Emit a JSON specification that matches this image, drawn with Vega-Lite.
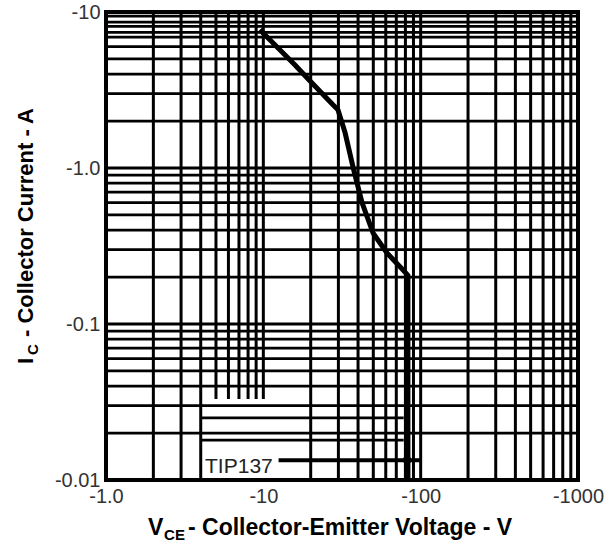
{
  "$schema": "https://vega.github.io/schema/vega-lite/v6.json",
  "width": 472,
  "height": 468,
  "autosize": {"type": "none"},
  "padding": {"left": 106, "top": 12, "right": 35, "bottom": 64},
  "background": "white",
  "config": {
    "view": {"stroke": "black", "strokeWidth": 4},
    "font": "Liberation Sans",
    "axis": {"ticks": false, "domain": false, "grid": false, "labelFontSize": 20, "labelColor": "#333", "labelPadding": 6,
             "labelFlush": false, "labelOverlap": false, "labelBound": false, "labelFont": "Liberation Sans"}
  },
  "datasets": {
    "vgrid": [
      {"v": 2, "lo": 0.01, "hi": 10}, {"v": 3, "lo": 0.01, "hi": 10}, {"v": 4, "lo": 0.01, "hi": 10},
      {"v": 5, "lo": 0.033, "hi": 10}, {"v": 6, "lo": 0.033, "hi": 10}, {"v": 7, "lo": 0.033, "hi": 10},
      {"v": 8, "lo": 0.033, "hi": 10}, {"v": 9, "lo": 0.033, "hi": 10}, {"v": 10, "lo": 0.033, "hi": 10},
      {"v": 20, "lo": 0.01, "hi": 10}, {"v": 30, "lo": 0.01, "hi": 10}, {"v": 40, "lo": 0.01, "hi": 10},
      {"v": 50, "lo": 0.01, "hi": 10}, {"v": 60, "lo": 0.01, "hi": 10}, {"v": 70, "lo": 0.01, "hi": 10},
      {"v": 80, "lo": 0.01, "hi": 10}, {"v": 90, "lo": 0.01, "hi": 10}, {"v": 100, "lo": 0.01, "hi": 10},
      {"v": 200, "lo": 0.01, "hi": 10}, {"v": 300, "lo": 0.01, "hi": 10}, {"v": 400, "lo": 0.01, "hi": 10},
      {"v": 500, "lo": 0.01, "hi": 10}, {"v": 600, "lo": 0.01, "hi": 10}, {"v": 700, "lo": 0.01, "hi": 10},
      {"v": 800, "lo": 0.01, "hi": 10}, {"v": 900, "lo": 0.01, "hi": 10}
    ],
    "hgrid": [
      {"c": 9.4, "from": 1, "to": 1000}, {"c": 8.6, "from": 1, "to": 1000}, {"c": 8.1, "from": 1, "to": 1000},
      {"c": 7.4, "from": 1, "to": 1000}, {"c": 6.9, "from": 1, "to": 1000}, {"c": 6, "from": 1, "to": 1000},
      {"c": 5, "from": 1, "to": 1000}, {"c": 4, "from": 1, "to": 1000}, {"c": 3, "from": 1, "to": 1000},
      {"c": 2, "from": 1, "to": 1000}, {"c": 1, "from": 1, "to": 1000}, {"c": 0.9, "from": 1, "to": 1000},
      {"c": 0.8, "from": 1, "to": 1000}, {"c": 0.7, "from": 1, "to": 1000}, {"c": 0.6, "from": 1, "to": 1000},
      {"c": 0.5, "from": 1, "to": 1000}, {"c": 0.4, "from": 1, "to": 1000}, {"c": 0.3, "from": 1, "to": 1000},
      {"c": 0.2, "from": 1, "to": 1000}, {"c": 0.1, "from": 1, "to": 1000}, {"c": 0.09, "from": 1, "to": 1000},
      {"c": 0.08, "from": 1, "to": 1000}, {"c": 0.07, "from": 1, "to": 1000}, {"c": 0.06, "from": 1, "to": 1000},
      {"c": 0.05, "from": 1, "to": 1000}, {"c": 0.04, "from": 1, "to": 1000}, {"c": 0.03, "from": 1, "to": 1000},
      {"c": 0.02, "from": 1, "to": 1000},
      {"c": 0.025, "from": 4, "to": 78}, {"c": 0.018, "from": 4, "to": 78}
    ],
    "curve": [
      {"i": 1, "vce": 9.5, "ic": 7.7},
      {"i": 2, "vce": 15.9, "ic": 4.57},
      {"i": 3, "vce": 19.0, "ic": 3.78},
      {"i": 4, "vce": 27.7, "ic": 2.54},
      {"i": 5, "vce": 29.8, "ic": 2.36},
      {"i": 6, "vce": 33.1, "ic": 1.68},
      {"i": 7, "vce": 37.2, "ic": 1.01},
      {"i": 8, "vce": 42.4, "ic": 0.6},
      {"i": 9, "vce": 49.8, "ic": 0.383},
      {"i": 10, "vce": 61.1, "ic": 0.285},
      {"i": 11, "vce": 77.3, "ic": 0.222},
      {"i": 12, "vce": 83, "ic": 0.205},
      {"i": 13, "vce": 83, "ic": 0.01}
    ],
    "legendline": [{"vce": 12.5, "ic": 0.0134}, {"vce": 100, "ic": 0.0134}],
    "marker": [{"vce": 82, "ic": 0.0134}]
  },
  "encoding": {
    "x": {"type": "quantitative", "title": null,
          "scale": {"type": "log", "domain": [1, 1000], "nice": false},
          "axis": {"values": [1, 10, 100, 1000], "title": null,
                   "labelExpr": "datum.value < 5 ? '-1.0' : datum.value < 50 ? '-10' : datum.value < 500 ? '-100' : '-1000'"}},
    "y": {"type": "quantitative", "title": null,
          "scale": {"type": "log", "domain": [0.01, 10], "nice": false},
          "axis": {"values": [0.01, 0.1, 1, 10], "title": null,
                   "labelExpr": "datum.value < 0.05 ? '-0.01' : datum.value < 0.5 ? '-0.1' : datum.value < 5 ? '-1.0' : '-10'"}}
  },
  "layer": [
    {
      "data": {"name": "vgrid"},
      "mark": {"type": "rule", "color": "black", "strokeWidth": 3},
      "encoding": {
        "x": {"field": "v"},
        "y": {"field": "lo"},
        "y2": {"field": "hi"}
      }
    },
    {
      "data": {"name": "hgrid"},
      "mark": {"type": "rule", "color": "black", "strokeWidth": 2.8},
      "encoding": {
        "y": {"field": "c"},
        "x": {"field": "from"},
        "x2": {"field": "to"}
      }
    },
    {
      "data": {"name": "curve"},
      "mark": {"type": "line", "color": "black", "strokeWidth": 5, "strokeJoin": "round"},
      "encoding": {
        "x": {"field": "vce"},
        "y": {"field": "ic"},
        "order": {"field": "i"}
      }
    },
    {
      "data": {"name": "legendline"},
      "mark": {"type": "line", "color": "black", "strokeWidth": 4},
      "encoding": {
        "x": {"field": "vce"},
        "y": {"field": "ic"}
      }
    },
    {
      "data": {"name": "marker"},
      "mark": {"type": "point", "filled": true, "color": "black", "size": 70, "opacity": 1},
      "encoding": {
        "x": {"field": "vce"},
        "y": {"field": "ic"}
      }
    },
    {
      "data": {"values": [{}]},
      "mark": {"type": "text", "text": "TIP137", "align": "left", "baseline": "middle", "fontSize": 21, "font": "Liberation Sans", "color": "#222"},
      "encoding": {"x": {"datum": 4.26}, "y": {"datum": 0.0121}}
    },
    {
      "data": {"values": [{}]},
      "mark": {"type": "text", "text": "V", "align": "left", "baseline": "alphabetic", "fontSize": 23, "fontWeight": "bold", "font": "Liberation Sans", "color": "black"},
      "encoding": {"x": {"datum": 1.849}, "y": {"datum": 0.00444}}
    },
    {
      "data": {"values": [{}]},
      "mark": {"type": "text", "text": "CE", "align": "left", "baseline": "alphabetic", "fontSize": 15, "fontWeight": "bold", "font": "Liberation Sans", "color": "black"},
      "encoding": {"x": {"datum": 2.34}, "y": {"datum": 0.00412}}
    },
    {
      "data": {"values": [{}]},
      "mark": {"type": "text", "text": "- Collector-Emitter Voltage - V", "align": "left", "baseline": "alphabetic", "fontSize": 23, "fontWeight": "bold", "font": "Liberation Sans", "color": "black"},
      "encoding": {"x": {"datum": 3.32}, "y": {"datum": 0.00444}}
    },
    {
      "data": {"values": [{}]},
      "mark": {"type": "text", "text": "I", "angle": 270, "align": "left", "baseline": "alphabetic", "fontSize": 22, "fontWeight": "bold", "font": "Liberation Sans", "color": "black"},
      "encoding": {"x": {"datum": 0.3434}, "y": {"datum": 0.0554}}
    },
    {
      "data": {"values": [{}]},
      "mark": {"type": "text", "text": "C", "angle": 270, "align": "left", "baseline": "alphabetic", "fontSize": 15, "fontWeight": "bold", "font": "Liberation Sans", "color": "black"},
      "encoding": {"x": {"datum": 0.37}, "y": {"datum": 0.0633}}
    },
    {
      "data": {"values": [{}]},
      "mark": {"type": "text", "text": "- Collector Current - A", "angle": 270, "align": "left", "baseline": "alphabetic", "fontSize": 22, "fontWeight": "bold", "font": "Liberation Sans", "color": "black"},
      "encoding": {"x": {"datum": 0.3434}, "y": {"datum": 0.0825}}
    }
  ]
}
